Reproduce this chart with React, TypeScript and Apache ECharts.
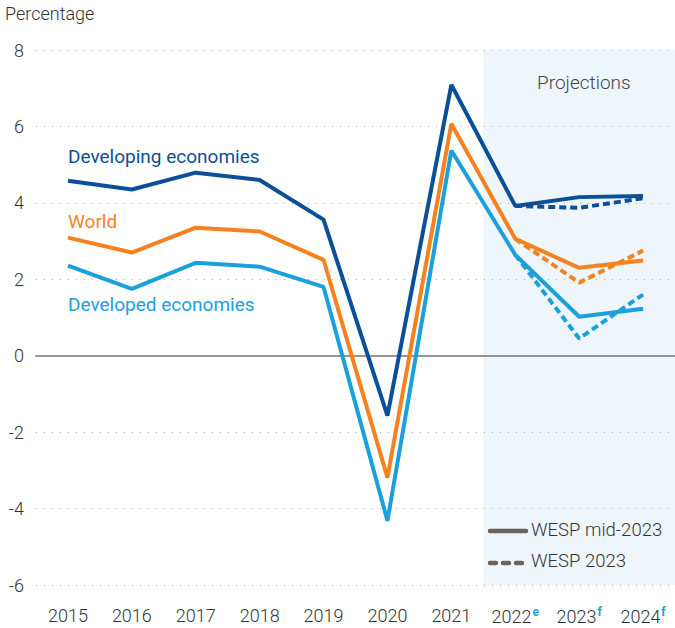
import React, { useEffect, useRef } from "react";
import * as echarts from "echarts";

const years = ["2015", "2016", "2017", "2018", "2019", "2020", "2021", "2022", "2023", "2024"];
const yearSup = ["", "", "", "", "", "", "", "e", "f", "f"];
const developing = [4.58, 4.35, 4.79, 4.6, 3.56, -1.57, 7.09, 3.92, 4.15, 4.18];
const world = [3.09, 2.7, 3.35, 3.25, 2.51, -3.19, 6.07, 3.06, 2.3, 2.49];
const developed = [2.36, 1.75, 2.43, 2.33, 1.8, -4.32, 5.37, 2.64, 1.02, 1.23];
const developingOld = [null, null, null, null, null, null, null, 3.92, 3.87, 4.12];
const worldOld = [null, null, null, null, null, null, null, 3.06, 1.91, 2.75];
const developedOld = [null, null, null, null, null, null, null, 2.64, 0.45, 1.6];
const projectionTop = [null, null, null, null, null, null, null, 8, 8, 8];
const projectionBottom = [null, null, null, null, null, null, null, -6, -6, -6];

const C_DEV = "#0B4F98";
const C_WORLD = "#F5821F";
const C_DEVD = "#1AA0DB";
const C_SHADE = "#EEF5FB";
const C_LEG = "#6E635B";
const FONT = "Roboto";
const FW = 300;

export default function App() {
  const ref = useRef<HTMLDivElement>(null);
  useEffect(() => {
    document.body.style.margin = "0";
    const chart = echarts.init(ref.current!, null, { renderer: "svg" });
    const lineSeries = (data: any[], color: string, dashed: boolean) => ({
      type: "line",
      data,
      symbol: "none",
      z: dashed ? 3 : 4,
      lineStyle: { color, width: 4, type: dashed ? [7, 4] : "solid", cap: "butt" },
    });
    chart.setOption({
      animation: false,
      textStyle: { fontFamily: FONT, fontWeight: FW },
      grid: { left: 36, right: 0, top: 50, bottom: 43 },
      xAxis: {
        type: "category",
        data: years,
        boundaryGap: true,
        axisLine: { onZero: true, lineStyle: { color: "#7B716A", width: 1.5 } },
        axisTick: { show: false },
        axisLabel: {
          interval: 0,
          margin: 21,
          fontSize: 18,
          color: "#333",
          fontFamily: FONT,
          fontWeight: FW,
          formatter: (v: string, i: number) => (yearSup[i] ? `{a|${v}}{s|${yearSup[i]}}` : `{a|${v}}`),
          rich: {
            a: { fontSize: 18, color: "#333", fontFamily: FONT, fontWeight: FW },
            s: { fontSize: 12, fontWeight: "bold", color: C_DEVD, verticalAlign: "top", padding: [0, 0, 8, 1], fontFamily: FONT },
          },
        },
      },
      yAxis: {
        type: "value",
        min: -6,
        max: 8,
        interval: 2,
        axisLine: { show: false },
        axisTick: { show: false },
        axisLabel: { fontSize: 18, color: "#333", margin: 12, fontFamily: FONT, fontWeight: FW },
        splitLine: { lineStyle: { color: "#AAAAAA", type: [1, 7], width: 1 } },
      },
      series: [
        { type: "bar", data: projectionTop, barWidth: "100%", barGap: "-100%", itemStyle: { color: C_SHADE }, z: -1, silent: true },
        { type: "bar", data: projectionBottom, barWidth: "100%", barGap: "-100%", itemStyle: { color: C_SHADE }, z: -1, silent: true },
        lineSeries(developingOld, C_DEV, true),
        lineSeries(worldOld, C_WORLD, true),
        lineSeries(developedOld, C_DEVD, true),
        lineSeries(developing, C_DEV, false),
        lineSeries(world, C_WORLD, false),
        lineSeries(developed, C_DEVD, false),
      ],
      graphic: [
        { type: "text", left: 5, top: 4, style: { text: "Percentage", fontSize: 18, fill: "#333", fontFamily: FONT, fontWeight: FW } },
        { type: "text", left: 68, top: 147, style: { text: "Developing economies", fontSize: 19, fill: C_DEV, fontFamily: FONT, fontWeight: 400 } },
        { type: "text", left: 68, top: 212, style: { text: "World", fontSize: 19, fill: C_WORLD, fontFamily: FONT, fontWeight: 400 } },
        { type: "text", left: 68, top: 295, style: { text: "Developed economies", fontSize: 19, fill: C_DEVD, fontFamily: FONT, fontWeight: 400 } },
        { type: "text", left: 537, top: 73, style: { text: "Projections", fontSize: 19, fill: "#444", fontFamily: FONT, fontWeight: FW } },
        { type: "line", shape: { x1: 490, y1: 531, x2: 526, y2: 531 }, style: { stroke: C_LEG, lineWidth: 4.5, lineCap: "round" } },
        { type: "text", left: 531, top: 520, style: { text: "WESP mid-2023", fontSize: 18.5, fill: "#333", fontFamily: FONT, fontWeight: FW } },
        { type: "line", shape: { x1: 490, y1: 563, x2: 526, y2: 563 }, style: { stroke: C_LEG, lineWidth: 4.5, lineCap: "round", lineDash: [6, 7] } },
        { type: "text", left: 531, top: 551, style: { text: "WESP 2023", fontSize: 18.5, fill: "#333", fontFamily: FONT, fontWeight: FW } },
      ],
    });
    return () => chart.dispose();
  }, []);
  return <div ref={ref} style={{ width: 675, height: 628 }} />;
}
